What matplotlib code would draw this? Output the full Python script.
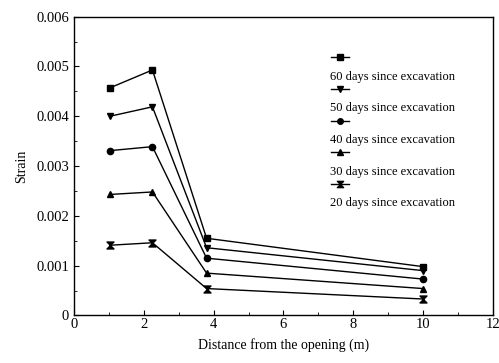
import matplotlib
matplotlib.use("Agg")
import matplotlib.pyplot as plt
from matplotlib.path import Path
from matplotlib.ticker import MultipleLocator

plt.rcParams['font.family'] = ['Liberation Serif', 'DejaVu Serif']

# distance from the opening (m)
distance = [1.03, 2.25, 3.8, 10.0]

# strain readings, one list per survey
strain_60 = [0.00457, 0.00493, 0.00155, 0.00098]
strain_50 = [0.00400, 0.00419, 0.00136, 0.00090]
strain_40 = [0.00331, 0.00339, 0.00115, 0.00073]
strain_30 = [0.00243, 0.00248, 0.00085, 0.00054]
strain_20 = [0.00141, 0.00146, 0.00054, 0.00033]

labels = ["60 days since excavation", "50 days since excavation",
          "40 days since excavation", "30 days since excavation",
          "20 days since excavation"]

xticks = [0, 2, 4, 6, 8, 10, 12]
yticks = [0, 0.001, 0.002, 0.003, 0.004, 0.005, 0.006]
yticklabels = ["0", "0.001", "0.002", "0.003", "0.004", "0.005", "0.006"]

# hourglass marker for the 20 day series
hourglass = Path([(-1, 1), (1, 1), (-1, -1), (1, -1), (-1, 1)],
                 [Path.MOVETO, Path.LINETO, Path.LINETO, Path.LINETO, Path.CLOSEPOLY])

series = [strain_60, strain_50, strain_40, strain_30, strain_20]
markers = ['s', 'v', 'o', '^', hourglass]
msizes = [5, 5, 4.5, 5, 5]

fig = plt.figure(figsize=(4.99, 3.63), dpi=100)
ax = fig.add_axes([0.148, 0.131, 0.840, 0.823])

for vals, mk, ms in zip(series, markers, msizes):
    ax.plot(distance, vals, color='black', lw=1.0, marker=mk, ms=ms,
            mfc='black', mec='black')

ax.set_xlim(0, 12)
ax.set_ylim(0, 0.006)
ax.set_xticks(xticks)
ax.set_yticks(yticks)
ax.set_yticklabels(yticklabels)
ax.xaxis.set_minor_locator(MultipleLocator(1))
ax.yaxis.set_minor_locator(MultipleLocator(0.0005))
ax.tick_params(which='both', direction='in', labelsize=10.5)
ax.tick_params(which='major', length=3.5)
ax.tick_params(which='minor', length=2)
ax.tick_params(axis='x', pad=2)
for sp in ax.spines.values():
    sp.set_linewidth(1.0)

ax.set_xlabel("Distance from the opening (m)", fontsize=10, labelpad=5)
ax.set_ylabel("Strain", fontsize=10, labelpad=6)

# legend drawn by hand: symbol above each label
y0 = 0.864
step = 0.106
for i, (mk, ms, lab) in enumerate(zip(markers, msizes, labels)):
    ys = y0 - i * step
    ax.plot([0.613, 0.657], [ys, ys], transform=ax.transAxes, color='black',
            lw=1.0, clip_on=False)
    ax.plot([0.635], [ys], transform=ax.transAxes, color='black', marker=mk,
            ms=ms - 0.5, clip_on=False)
    ax.text(0.611, ys - 0.065, lab, transform=ax.transAxes, fontsize=9,
            va='center', ha='left')

fig.savefig("out.png", dpi=100)
